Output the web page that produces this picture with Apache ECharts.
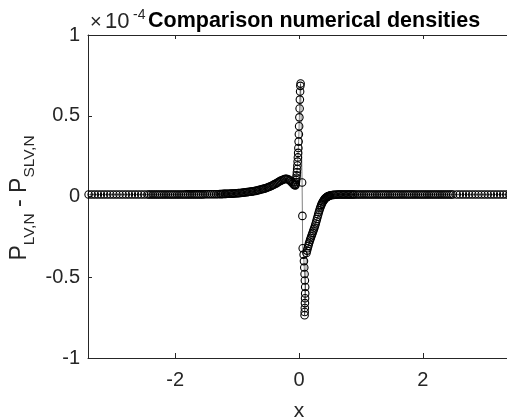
<!DOCTYPE html>
<html>
<head>
<meta charset="utf-8">
<script src="https://cdn.jsdelivr.net/npm/echarts@6/dist/echarts.min.js"></script>
<style>
  html, body { margin: 0; padding: 0; background: #fff; }
  #chart { width: 507px; height: 420px; }
</style>
</head>
<body>
<div id="chart"></div>
<script>
// values are in units of 1e-4 (axis shows the x10^-4 factor)
const leftTailX = [-3.40, -3.35, -3.30, -3.25, -3.20, -3.15, -3.10, -3.05, -3.00, -2.95,
  -2.90, -2.85, -2.80, -2.75, -2.70, -2.65, -2.60, -2.55, -2.50, -2.45]
const leftTailY = [0.012, 0.012, 0.012, 0.012, 0.012, 0.012, 0.012, 0.012, 0.012, 0.012,
  0.012, 0.012, 0.012, 0.012, 0.012, 0.012, 0.012, 0.012, 0.012, 0.012]

const leftMidX = [-2.42, -2.39, -2.36, -2.33, -2.30, -2.27, -2.24, -2.21, -2.18, -2.15,
  -2.12, -2.09, -2.06, -2.03, -2.00, -1.97, -1.94, -1.91, -1.88, -1.85,
  -1.82, -1.79, -1.76, -1.73, -1.70, -1.67, -1.64, -1.61, -1.58, -1.55,
  -1.52, -1.49, -1.46, -1.43, -1.40, -1.37, -1.34, -1.31]
const leftMidY = [0.012, 0.012, 0.012, 0.012, 0.012, 0.012, 0.012, 0.012, 0.012, 0.012,
  0.012, 0.012, 0.012, 0.012, 0.012, 0.012, 0.012, 0.012, 0.012, 0.012,
  0.013, 0.013, 0.013, 0.013, 0.013, 0.013, 0.013, 0.013, 0.013, 0.013,
  0.014, 0.014, 0.014, 0.014, 0.014, 0.014, 0.014, 0.014]

// smooth bump left of zero
const bumpX = [-1.28, -1.26, -1.24, -1.22, -1.20, -1.18, -1.16, -1.14, -1.12, -1.10,
  -1.08, -1.06, -1.04, -1.02, -1.00, -0.98, -0.96, -0.94, -0.92, -0.90,
  -0.88, -0.86, -0.84, -0.82, -0.80, -0.78, -0.76, -0.74, -0.72, -0.70,
  -0.68, -0.66, -0.64, -0.62, -0.60, -0.58, -0.56, -0.54, -0.52, -0.50,
  -0.48, -0.46, -0.44, -0.42, -0.40, -0.38, -0.36, -0.34, -0.32, -0.30,
  -0.28, -0.26, -0.24, -0.22, -0.20, -0.18, -0.16, -0.14, -0.12, -0.10,
  -0.08, -0.06]
const bumpY = [0.015, 0.015, 0.015, 0.016, 0.016, 0.016, 0.017, 0.017, 0.017, 0.018,
  0.018, 0.019, 0.019, 0.020, 0.020, 0.021, 0.022, 0.022, 0.023, 0.024,
  0.025, 0.026, 0.027, 0.028, 0.029, 0.030, 0.031, 0.032, 0.034, 0.035,
  0.037, 0.039, 0.041, 0.043, 0.045, 0.047, 0.049, 0.051, 0.054, 0.057,
  0.060, 0.063, 0.067, 0.071, 0.075, 0.079, 0.083, 0.088, 0.093, 0.097,
  0.101, 0.104, 0.107, 0.109, 0.109, 0.107, 0.103, 0.097, 0.089, 0.080,
  0.072, 0.068]

// steep rise just before zero
const spikeX = [-0.058, -0.054, -0.050, -0.046, -0.042, -0.038, -0.034, -0.030, -0.026, -0.022,
  -0.018, -0.014, -0.010, -0.006, -0.002, 0.002, 0.006, 0.010, 0.014, 0.018,
  0.022, 0.026]
const spikeY = [0.072, 0.080, 0.090, 0.102, 0.116, 0.132, 0.150, 0.170, 0.192, 0.216,
  0.242, 0.270, 0.300, 0.340, 0.385, 0.435, 0.490, 0.545, 0.600, 0.650,
  0.685, 0.700]

// the jump down
const dropX = [0.050, 0.055, 0.060]
const dropY = [0.087, -0.120, -0.320]

const dipX = [0.075, 0.080, 0.085, 0.090, 0.095, 0.100, 0.100, 0.098, 0.096, 0.094,
  0.092, 0.090]
const dipY = [-0.360, -0.400, -0.440, -0.480, -0.520, -0.560, -0.600, -0.630, -0.660, -0.690,
  -0.715, -0.735]

// recovery right of zero
const rightX = [0.12, 0.13, 0.14, 0.15, 0.16, 0.17, 0.18, 0.19, 0.20, 0.21,
  0.22, 0.23, 0.24, 0.25, 0.26, 0.27, 0.28, 0.29, 0.30, 0.31,
  0.32, 0.33, 0.34, 0.35, 0.36, 0.37, 0.38, 0.39, 0.40, 0.41,
  0.42, 0.43, 0.44, 0.45, 0.46, 0.47, 0.48, 0.49, 0.50,
  0.52, 0.54, 0.56, 0.58, 0.60, 0.62, 0.64, 0.66, 0.68, 0.70,
  0.72, 0.74, 0.76, 0.78, 0.80, 0.82, 0.84, 0.86, 0.88, 0.90]
const rightY = [-0.350, -0.335, -0.320, -0.306, -0.292, -0.280, -0.268, -0.257, -0.246, -0.235,
  -0.225, -0.214, -0.203, -0.192, -0.180, -0.167, -0.153, -0.139, -0.125, -0.111,
  -0.098, -0.085, -0.073, -0.062, -0.052, -0.044, -0.036, -0.029, -0.023, -0.018,
  -0.013, -0.009, -0.006, -0.003, -0.001, 0.001, 0.003, 0.005, 0.006,
  0.008, 0.009, 0.010, 0.011, 0.011, 0.012, 0.012, 0.012, 0.012, 0.012,
  0.012, 0.012, 0.012, 0.012, 0.012, 0.012, 0.012, 0.012, 0.012, 0.012]

const rightMidX = [0.93, 0.96, 0.99, 1.02, 1.05, 1.08, 1.11, 1.14, 1.17, 1.20,
  1.23, 1.26, 1.29, 1.32, 1.35, 1.38, 1.41, 1.44, 1.47, 1.50,
  1.53, 1.56, 1.59, 1.62, 1.65, 1.68, 1.71, 1.74, 1.77, 1.80,
  1.83, 1.86, 1.89, 1.92, 1.95, 1.98, 2.01, 2.04, 2.07, 2.10,
  2.13, 2.16, 2.19, 2.22, 2.25, 2.28, 2.31, 2.34, 2.37, 2.40,
  2.43, 2.46, 2.49]
const rightMidY = [0.012, 0.012, 0.012, 0.012, 0.012, 0.012, 0.012, 0.012, 0.012, 0.012,
  0.012, 0.012, 0.012, 0.012, 0.012, 0.012, 0.012, 0.012, 0.012, 0.012,
  0.012, 0.012, 0.012, 0.012, 0.012, 0.012, 0.012, 0.012, 0.012, 0.012,
  0.012, 0.012, 0.012, 0.012, 0.012, 0.012, 0.012, 0.012, 0.012, 0.012,
  0.012, 0.012, 0.012, 0.012, 0.012, 0.012, 0.012, 0.012, 0.012, 0.012,
  0.012, 0.012, 0.012]

const rightTailX = [2.55, 2.60, 2.65, 2.70, 2.75, 2.80, 2.85, 2.90, 2.95, 3.00,
  3.05, 3.10, 3.15, 3.20, 3.25, 3.30, 3.35, 3.40]
const rightTailY = [0.012, 0.012, 0.012, 0.012, 0.012, 0.012, 0.012, 0.012, 0.012, 0.012,
  0.012, 0.012, 0.012, 0.012, 0.012, 0.012, 0.012, 0.012]

const xTicks = [-2, 0, 2]

const allX = [].concat(leftTailX, leftMidX, bumpX, spikeX, dropX, dipX, rightX, rightMidX, rightTailX)
const allY = [].concat(leftTailY, leftMidY, bumpY, spikeY, dropY, dipY, rightY, rightMidY, rightTailY)
const points = allX.map((x, i) => [x, allY[i]])

const FONT = '"Liberation Sans", Arial, Helvetica, sans-serif'
const INK = '#262626'

const chart = echarts.init(document.getElementById('chart'), null, {renderer: 'canvas'})

const option = {
  animation: false,
  backgroundColor: '#fff',
  // v6 would shrink the grid to fit labels; keep the box where MATLAB put it
  grid: {left: 88, top: 35, width: 422, height: 323, containLabel: false, outerBoundsMode: 'none'},
  xAxis: [
    {
      type: 'value', min: -3.41, max: 3.41, position: 'bottom',
      axisLine: {onZero: false, lineStyle: {color: INK, width: 1}},
      axisTick: {inside: true, length: 5, customValues: xTicks, lineStyle: {color: INK}},
      axisLabel: {customValues: xTicks, color: INK, fontSize: 20, fontFamily: FONT, margin: 12},
      splitLine: {show: false},
      name: 'x', nameLocation: 'middle', nameGap: 43,
      nameTextStyle: {color: INK, fontSize: 21, fontFamily: FONT},
    },
    {
      type: 'value', min: -3.41, max: 3.41, position: 'top',
      axisLine: {onZero: false, lineStyle: {color: INK, width: 1}},
      axisTick: {inside: true, length: 4, customValues: xTicks, lineStyle: {color: INK}},
      axisLabel: {show: false},
      splitLine: {show: false},
    },
  ],
  yAxis: {
    type: 'value', min: -1, max: 1, interval: 0.5, position: 'left',
    axisLine: {show: true, onZero: false, lineStyle: {color: INK, width: 1}},
    axisTick: {show: true, inside: true, length: 4, lineStyle: {color: INK}},
    axisLabel: {color: INK, fontSize: 20, fontFamily: FONT, margin: 8},
    splitLine: {show: false},
  },
  graphic: [
    {
      type: 'text', x: 90, y: 22,
      style: {text: '×', font: '20px ' + FONT, fill: INK, align: 'left', verticalAlign: 'middle'},
    },
    {
      type: 'text', x: 105, y: 22,
      style: {text: '10', font: '22px ' + FONT, fill: INK, align: 'left', verticalAlign: 'middle'},
    },
    {
      type: 'text', x: 133, y: 15,
      style: {text: '-4', font: '14px ' + FONT, fill: INK, align: 'left', verticalAlign: 'middle'},
    },
    {
      type: 'text', x: 148, y: 21,
      style: {text: 'Comparison numerical densities', font: 'bold 21.5px ' + FONT, fill: '#000',
        align: 'left', verticalAlign: 'middle'},
    },
    {
      type: 'text', x: 23, y: 198, rotation: Math.PI / 2,
      style: {
        text: '{p|P}{s|LV,N}{p| - P}{s|SLV,N}',
        fill: INK, align: 'center', verticalAlign: 'middle',
        rich: {
          p: {fontSize: 23, fontFamily: FONT, fill: INK, lineHeight: 23, verticalAlign: 'top'},
          s: {fontSize: 15.5, fontFamily: FONT, fill: INK, lineHeight: 30, verticalAlign: 'bottom'},
        },
      },
    },
  ],
  series: [
    {
      type: 'line',
      data: points,
      xAxisIndex: 0, yAxisIndex: 0,
      symbol: 'circle', symbolSize: 7.5, showSymbol: true, showAllSymbol: true,
      itemStyle: {color: 'rgba(0,0,0,0)', borderColor: '#000', borderWidth: 1.1},
      lineStyle: {color: '#000', width: 0.5},
      emphasis: {disabled: true},
      silent: true,
    },
  ],
}

chart.setOption(option)
</script>
</body>
</html>
